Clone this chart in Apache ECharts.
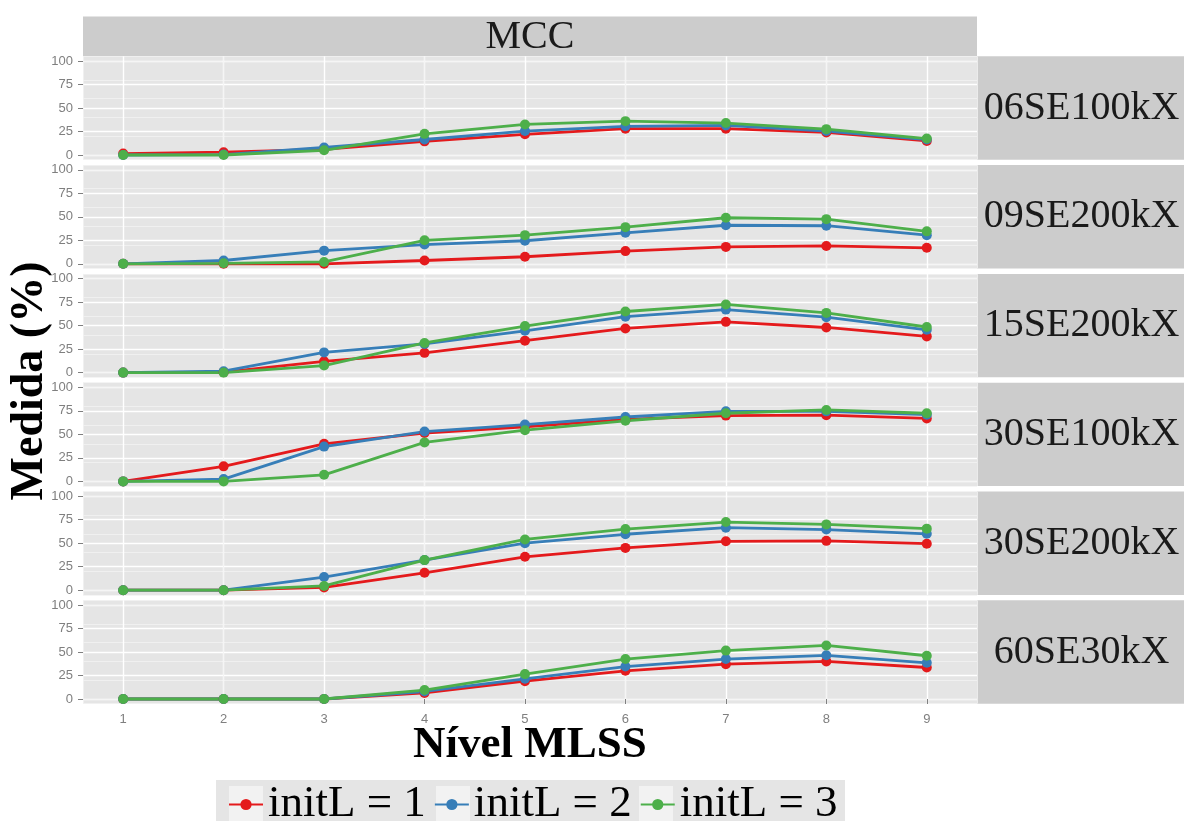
<!DOCTYPE html>
<html><head><meta charset="utf-8">
<script src="https://cdn.jsdelivr.net/npm/echarts@6/dist/echarts.min.js"></script>
<style>html,body{margin:0;padding:0;background:#fff}#c{width:1184px;height:821px}</style>
</head><body><div id="c"></div>
<script>
// ---- data ----
const levels = [1, 2, 3, 4, 5, 6, 7, 8, 9];
const panelNames = ['06SE100kX', '09SE200kX', '15SE200kX', '30SE100kX', '30SE200kX', '60SE30kX'];
const seriesNames = ['initL = 1', 'initL = 2', 'initL = 3'];
const yTicks = [0, 25, 50, 75, 100];
const yMinorTicks = [12.5, 37.5, 62.5, 87.5];
const xMinorTicks = [1.5, 2.5, 3.5, 4.5, 5.5, 6.5, 7.5, 8.5];

const se06_100k_L1 = [1.5, 3, 6, 14.5, 22, 28, 28, 24, 15];
const se06_100k_L2 = [0, 0.5, 8, 16.5, 25.5, 30.5, 31.5, 25.5, 16.5];
const se06_100k_L3 = [0, 0, 5, 22.5, 32.5, 36, 34, 27.5, 17.5];

const se09_200k_L1 = [0, 0, 0, 3.5, 7.5, 13.5, 18, 19, 17];
const se09_200k_L2 = [0, 3.5, 14, 20.5, 24.5, 33, 41, 40.5, 30.5];
const se09_200k_L3 = [0, 0.5, 2, 25, 30.5, 39, 49, 47.5, 34.5];

const se15_200k_L1 = [0, 0.5, 12, 21, 34, 47, 54, 48, 38.5];
const se15_200k_L2 = [0, 1.5, 21.5, 30.5, 44.5, 59.5, 67, 59, 45.5];
const se15_200k_L3 = [0, 0, 7.5, 31.5, 49.5, 65, 72.5, 63.5, 48.5];

const se30_100k_L1 = [0, 16, 40, 51.5, 58, 66, 70, 70.5, 67];
const se30_100k_L2 = [0, 2.5, 37, 53, 60.5, 68.5, 74.5, 74.5, 71];
const se30_100k_L3 = [0, 0, 7, 41.5, 54.5, 64.5, 72.5, 76, 72.5];

const se30_200k_L1 = [0, 0, 3, 18.5, 35.5, 45, 52, 52.5, 49.5];
const se30_200k_L2 = [0, 0, 14, 32, 50, 59.5, 66.5, 64.5, 60];
const se30_200k_L3 = [0, 0, 4.5, 32, 54, 65, 72.5, 70, 65.5];

const se60_30k_L1 = [0, 0, 0, 6.5, 19, 30, 37, 40, 33.5];
const se60_30k_L2 = [0, 0, 0, 8, 21.5, 34.5, 42.5, 46.5, 38.5];
const se60_30k_L3 = [0, 0, 0, 9.5, 26.5, 42.5, 51.5, 57, 46];

const panelData = [
  [se06_100k_L1, se06_100k_L2, se06_100k_L3],
  [se09_200k_L1, se09_200k_L2, se09_200k_L3],
  [se15_200k_L1, se15_200k_L2, se15_200k_L3],
  [se30_100k_L1, se30_100k_L2, se30_100k_L3],
  [se30_200k_L1, se30_200k_L2, se30_200k_L3],
  [se60_30k_L1, se60_30k_L2, se60_30k_L3]
];

// ---- layout / style ----
const colors = ['#E41A1C', '#377EB8', '#4DAF4A'];
const L = 83, R = 977, W = R - L;
const TOP0 = 56.3, STEP = 108.8, H = 103.4;
const SERIF = 'Liberation Serif';
const SANS = 'Liberation Sans';
const N = panelNames.length;

const grids = [], xAxes = [], yAxes = [], series = [], graphics = [];

for (let i = 0; i < N; i++) {
  const top = TOP0 + i * STEP;
  grids.push({ left: L, top: top, width: W, height: H, show: true, backgroundColor: '#E5E5E5', borderWidth: 0 });
  xAxes.push({
    type: 'value', gridIndex: i, min: 0.6, max: 9.5,
    axisLine: { show: false },
    axisTick: { show: i === N - 1, customValues: levels, length: 5, lineStyle: { color: '#7f7f7f', width: 1 } },
    axisLabel: { show: i === N - 1, customValues: levels, color: '#7f7f7f', fontSize: 13, fontFamily: SANS, margin: 9 },
    splitLine: { show: true, customValues: levels, lineStyle: { color: '#FFFFFF', width: 1.4 } }
  });
  yAxes.push({
    type: 'value', gridIndex: i, min: -5, max: 105,
    axisLine: { show: false },
    axisTick: { show: true, customValues: yTicks, length: 5, lineStyle: { color: '#7f7f7f', width: 1 } },
    axisLabel: { customValues: yTicks, color: '#7f7f7f', fontSize: 13, fontFamily: SANS, margin: 10 },
    splitLine: { show: true, customValues: yTicks, lineStyle: { color: '#FFFFFF', width: 1.4 } }
  });
  graphics.push({
    type: 'rect', shape: { x: R, y: top, width: 1184 - R, height: H }, style: { fill: '#CCCCCC' }, z: 0
  });
  graphics.push({
    type: 'text', x: (R + 1184) / 2 + 1, y: top + H / 2, z: 1,
    style: { text: panelNames[i], font: '40px "' + SERIF + '"', fill: '#1A1A1A', textAlign: 'center', textVerticalAlign: 'middle' }
  });
}
// minor grid axes
for (let i = 0; i < N; i++) {
  xAxes.push({
    type: 'value', gridIndex: i, min: 0.6, max: 9.5,
    axisLine: { show: false }, axisTick: { show: false }, axisLabel: { show: false },
    splitLine: { show: true, customValues: xMinorTicks, lineStyle: { color: '#F2F2F2', width: 0.8 } }
  });
  yAxes.push({
    type: 'value', gridIndex: i, min: -5, max: 105,
    axisLine: { show: false }, axisTick: { show: false }, axisLabel: { show: false },
    splitLine: { show: true, customValues: yMinorTicks, lineStyle: { color: '#F2F2F2', width: 0.8 } }
  });
}

for (let i = 0; i < N; i++) {
  for (let k = 0; k < 3; k++) {
    series.push({
      type: 'line', name: seriesNames[k], xAxisIndex: i, yAxisIndex: i,
      data: levels.map((x, j) => [x, panelData[i][k][j]]),
      symbol: 'circle', symbolSize: 10,
      lineStyle: { width: 2.8, color: colors[k] },
      itemStyle: { color: colors[k] },
      z: 3
    });
  }
}

// top strip
graphics.push({ type: 'rect', shape: { x: L, y: 16.5, width: W, height: TOP0 - 16.5 }, style: { fill: '#CCCCCC' }, z: 0 });
graphics.push({ type: 'text', x: (L + R) / 2, y: 37, z: 1,
  style: { text: 'MCC', font: '40px "' + SERIF + '"', fill: '#1A1A1A', textAlign: 'center', textVerticalAlign: 'middle' } });
// axis titles
graphics.push({ type: 'text', x: 30, y: 381, rotation: Math.PI / 2, z: 1,
  style: { text: 'Medida (%)', font: 'bold 46px "' + SERIF + '"', fill: '#000', textAlign: 'center', textVerticalAlign: 'middle' } });
graphics.push({ type: 'text', x: 530, y: 745, z: 1,
  style: { text: 'Nível MLSS', font: 'bold 45px "' + SERIF + '"', fill: '#000', textAlign: 'center', textVerticalAlign: 'middle' } });
// legend background and key backgrounds
graphics.push({ type: 'rect', shape: { x: 216, y: 780, width: 629, height: 45 }, style: { fill: '#E5E5E5' }, z: 0 });
[229, 436, 639].forEach(function (kx) {
  graphics.push({ type: 'rect', shape: { x: kx, y: 786, width: 34, height: 36 }, style: { fill: '#F2F2F2' }, z: 1 });
});

const option = {
  animation: false,
  backgroundColor: '#FFFFFF',
  grid: grids,
  xAxis: xAxes,
  yAxis: yAxes,
  series: series,
  legend: {
    data: seriesNames, left: 228, top: 782, padding: 0,
    itemWidth: 34, itemHeight: 14, itemGap: 8,
    textStyle: { fontFamily: SERIF, fontSize: 45, color: '#000' },
    z: 10
  },
  graphic: { elements: graphics }
};

const chart = echarts.init(document.getElementById('c'), null, { renderer: 'canvas' });
chart.setOption(option);
</script>
</body></html>
